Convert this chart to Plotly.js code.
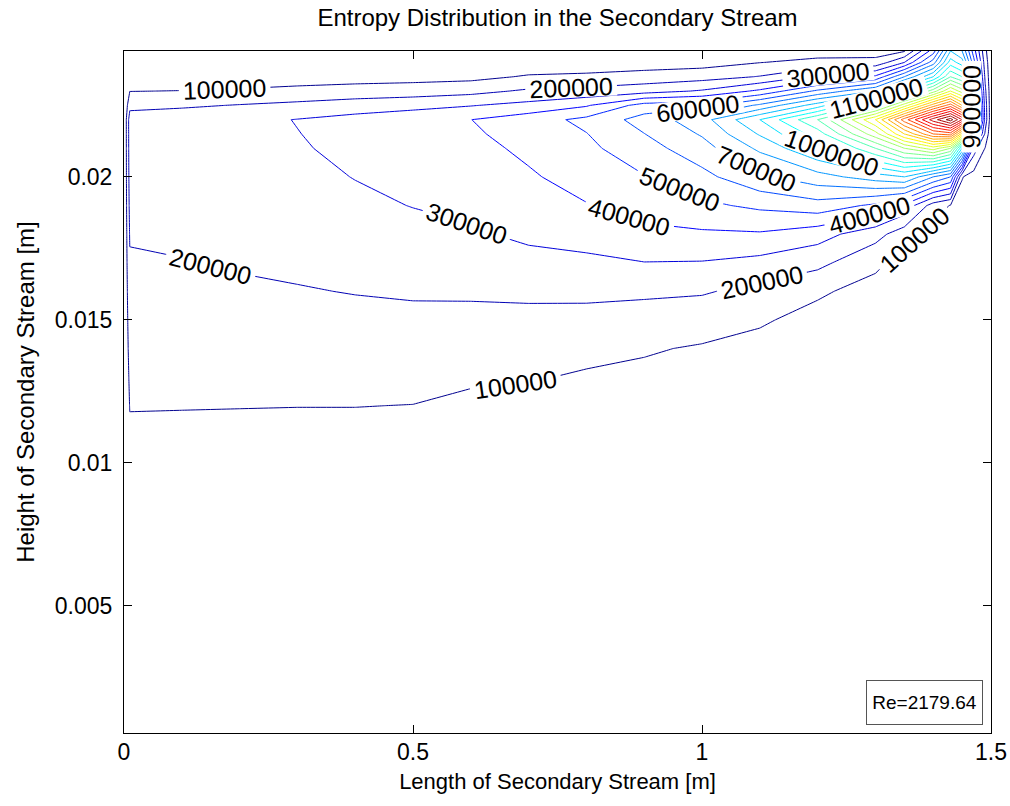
<!DOCTYPE html>
<html>
<head>
<meta charset="utf-8">
<script src="https://cdn.plot.ly/plotly-3.0.1.min.js"></script>
<style>html,body{margin:0;padding:0;background:#fff;}#chart{width:1010px;height:806px;}</style>
</head>
<body>
<div id="chart"></div>
<script>
// Grid of the secondary stream: x positions (m) and y positions (m)
const xLength = [0, 0.01, 0.1, 0.2, 0.3, 0.4, 0.5, 0.6, 0.7, 0.8, 0.9, 1.0, 1.1, 1.2, 1.3, 1.35, 1.4, 1.43, 1.45, 1.47, 1.49, 1.5];
const yHeight = [0.00056, 0.005, 0.010, 0.011, 0.012, 0.013, 0.014, 0.015, 0.016, 0.017, 0.018, 0.019, 0.020, 0.021, 0.0215, 0.022, 0.0225, 0.023, 0.0235, 0.024, 0.0244];

// Entropy values (in thousands) for each x column, listed bottom to top along yHeight
const s_x000 = [0, 0, 0, 0, 0, 0, 0, 0, 0, 0, 0, 0, 0, 0, 0, 0, 0, 0, 0, 0, 0];
const s_x001 = [0, 20, 70, 85, 104, 120, 138, 155, 172, 190, 208, 225, 238, 246, 248, 250, 170, 98, 40, 15, 5];
const s_x010 = [0, 20, 68, 84, 103, 118, 135, 152, 170, 197, 214, 232, 246, 256, 260, 262, 185, 102, 45, 18, 5];
const s_x020 = [0, 20, 66, 83, 102, 117, 135, 153, 180, 212, 232, 250, 263, 271, 273, 275, 205, 110, 50, 18, 5];
const s_x030 = [0, 20, 66, 83, 101, 118, 137, 158, 192, 225, 248, 266, 281, 293, 298, 303, 225, 125, 55, 20, 6];
const s_x040 = [0, 20, 66, 83, 101, 120, 140, 165, 205, 240, 265, 285, 302, 318, 326, 332, 250, 140, 60, 22, 6];
const s_x050 = [0, 20, 64, 81, 99, 120, 143, 176, 212, 250, 278, 302, 322, 340, 350, 360, 270, 150, 65, 24, 7];
const s_x060 = [0, 18, 58, 72, 85, 110, 140, 172, 215, 255, 290, 318, 345, 370, 386, 399, 295, 170, 72, 26, 8];
const s_x070 = [0, 17, 55, 68, 82, 106, 135, 170, 222, 275, 316, 350, 388, 420, 438, 455, 330, 215, 110, 35, 10];
const s_x080 = [0, 15, 50, 62, 76, 92, 120, 165, 225, 280, 338, 395, 440, 478, 497, 525, 390, 230, 120, 40, 12];
const s_x090 = [0, 14, 45, 56, 68, 82, 108, 150, 220, 298, 375, 440, 495, 560, 598, 640, 540, 260, 140, 50, 14];
const s_x100 = [0, 12, 40, 50, 62, 76, 92, 140, 210, 295, 385, 480, 570, 660, 710, 760, 560, 310, 160, 60, 18];
const s_x110 = [0, 11, 36, 45, 55, 67, 80, 108, 170, 270, 390, 520, 680, 820, 910, 1000, 720, 420, 205, 98, 30];
const s_x120 = [0, 10, 30, 38, 46, 55, 65, 78, 110, 230, 340, 560, 760, 1000, 1150, 1300, 950, 620, 320, 125, 60];
const s_x130 = [0, 8, 25, 31, 38, 45, 53, 62, 75, 115, 240, 480, 850, 1300, 1560, 1800, 1300, 800, 420, 130, 60];
const s_x135 = [0, 7, 20, 25, 30, 36, 43, 50, 60, 75, 140, 380, 900, 1500, 1900, 2250, 1650, 1150, 700, 300, 90];
const s_x140 = [0, 6, 16, 20, 24, 28, 33, 39, 46, 55, 70, 150, 700, 1650, 2200, 2650, 2050, 1450, 1000, 650, 450];
const s_x143 = [0, 5, 13, 16, 19, 22, 26, 30, 35, 42, 55, 95, 600, 1500, 2250, 2850, 2250, 1700, 1300, 1050, 900];
const s_x145 = [0, 4, 10, 12, 14, 17, 20, 23, 27, 32, 40, 60, 105, 1000, 1850, 2600, 2000, 1550, 1200, 950, 800];
const s_x147 = [0, 3, 8, 9, 10, 12, 14, 16, 19, 22, 27, 35, 60, 250, 650, 1050, 950, 820, 680, 540, 450];
const s_x149 = [0, 2, 5, 6, 7, 8, 9, 10, 12, 14, 16, 20, 40, 95, 180, 260, 250, 220, 180, 150, 120];
const s_x150 = [0, 1, 2, 2, 3, 3, 3, 4, 4, 5, 6, 8, 12, 20, 30, 40, 38, 35, 32, 30, 28];

const columns = [s_x000, s_x001, s_x010, s_x020, s_x030, s_x040, s_x050, s_x060, s_x070, s_x080, s_x090,
                 s_x100, s_x110, s_x120, s_x130, s_x135, s_x140, s_x143, s_x145, s_x147, s_x149, s_x150];

const xTicks = [0, 0.5, 1, 1.5];
const xTickText = ['0', '0.5', '1', '1.5'];
const yTicks = [0.005, 0.01, 0.015, 0.02];
const yTickText = ['0.005', '0.01', '0.015', '0.02'];
const reynolds = 'Re=2179.64';

// z[row][col] (thousands -> units)
const z = yHeight.map((_, r) => columns.map(col => col[r] * 1000));

const jet = [
  [0, 'rgb(0,0,143)'], [0.111, 'rgb(0,0,255)'], [0.365, 'rgb(0,255,255)'],
  [0.619, 'rgb(255,255,0)'], [0.873, 'rgb(255,0,0)'], [1, 'rgb(128,0,0)']
];

const FONT = 'Liberation Sans, Arial, Helvetica, sans-serif';

const trace = {
  type: 'contour',
  x: xLength, y: yHeight, z: z,
  zauto: false, zmin: 0, zmax: 2850000,
  colorscale: jet,
  showscale: false,
  autocontour: false,
  contours: {
    start: 100000, end: 2800000, size: 100000,
    coloring: 'lines', showlabels: true, labelformat: 'd',
    labelfont: {family: FONT, size: 25, color: '#000'}
  },
  line: {width: 1, smoothing: 0},
  hoverinfo: 'skip'
};

const axisCommon = {
  showgrid: false, zeroline: false, showline: true, linecolor: '#000', linewidth: 1,
  mirror: 'ticks', ticks: 'inside', ticklen: 8, tickcolor: '#000', tickwidth: 1,
  tickfont: {family: FONT, size: 23, color: '#000'}
};

const layout = {
  width: 1010, height: 806,
  margin: {l: 124, r: 19, t: 51, b: 73},
  paper_bgcolor: '#fff', plot_bgcolor: '#fff',
  showlegend: false,
  title: {text: 'Entropy Distribution in the Secondary Stream', font: {family: FONT, size: 24, color: '#000'},
          x: 0.5, xref: 'paper', xanchor: 'center', y: 0.978, yref: 'container', yanchor: 'middle'},
  xaxis: Object.assign({}, axisCommon, {
    range: [0, 1.5], tickvals: xTicks, ticktext: xTickText, ticklabelstandoff: -2,
    title: {text: 'Length of Secondary Stream [m]', font: {family: FONT, size: 22, color: '#000'}, standoff: 10}
  }),
  yaxis: Object.assign({}, axisCommon, {
    range: [0.00056, 0.0244], tickvals: yTicks, ticktext: yTickText, ticklabelstandoff: 6,
    title: {text: 'Height of Secondary Stream [m]', font: {family: FONT, size: 24, color: '#000'}, standoff: 13}
  }),
  annotations: [{
    text: reynolds, xref: 'paper', yref: 'paper', x: 0.991, y: 0.012, xanchor: 'right', yanchor: 'bottom',
    showarrow: false, font: {family: FONT, size: 19, color: '#000'},
    bgcolor: '#fff', bordercolor: '#555', borderwidth: 1, width: 113, height: 41
  }]
};

Plotly.newPlot('chart', [trace], layout, {displayModeBar: false, staticPlot: true});
</script>
</body>
</html>
